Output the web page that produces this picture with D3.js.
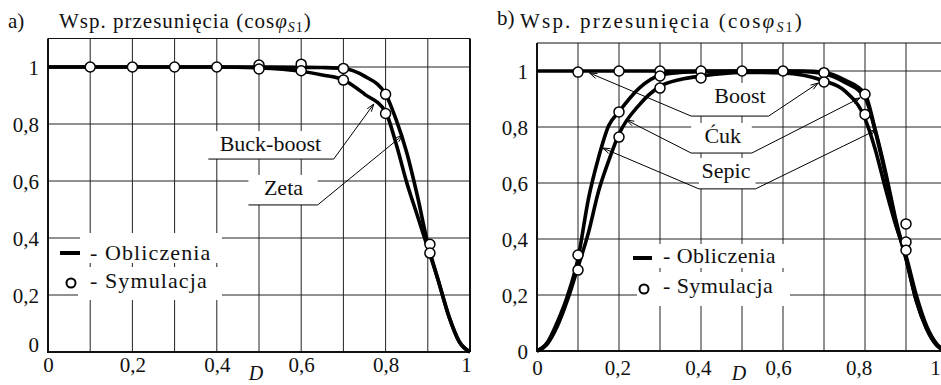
<!DOCTYPE html>
<html>
<head>
<meta charset="utf-8">
<script src="https://cdn.jsdelivr.net/npm/d3@7"></script>
<style>
  body { margin: 0; background: #fff; }
  svg { display: block; font-family: "Liberation Serif", "Times New Roman", serif; }
  text { font-family: "Liberation Serif", "Times New Roman", serif; }
</style>
</head>
<body>
<svg id="chart" width="941" height="385"></svg>
<script>
// ---- values ----
const xTicks = [0, 0.2, 0.4, 0.6, 0.8, 1]
const yTicks = [0, 0.2, 0.4, 0.6, 0.8, 1]
const xGrid = [0.1, 0.2, 0.3, 0.4, 0.5, 0.6, 0.7, 0.8, 0.9]
const yGrid = [0.2, 0.4, 0.6, 0.8, 1]

// panel a) computed curves
const dA = [0, 0.1, 0.2, 0.3, 0.4, 0.5, 0.6, 0.65, 0.7, 0.75, 0.8, 0.825, 0.85, 0.875, 0.9, 0.925, 0.95, 0.975, 1]
const buckBoostA = [1, 1, 1, 1, 1, 0.997, 0.985, 0.972, 0.955, 0.905, 0.842, 0.73, 0.595, 0.48, 0.365, 0.25, 0.125, 0.035, 0]
const zetaA = [1, 1, 1, 1, 1, 1, 0.999, 0.998, 0.995, 0.968, 0.905, 0.815, 0.70, 0.55, 0.38, 0.25, 0.125, 0.035, 0]
// panel a) simulation points
const simDA = [0.1, 0.2, 0.3, 0.4, 0.5, 0.5, 0.6, 0.6, 0.7, 0.7, 0.8, 0.8, 0.905, 0.905]
const simVA = [1, 1, 1, 1, 1.007, 0.993, 1.01, 0.987, 0.995, 0.954, 0.904, 0.837, 0.378, 0.347]

// panel b) computed curves
const dB = [0, 0.025, 0.05, 0.075, 0.1, 0.125, 0.15, 0.175, 0.2, 0.25, 0.3, 0.35, 0.4, 0.5, 0.6, 0.65, 0.7, 0.75, 0.8, 0.825, 0.85, 0.875, 0.9, 0.925, 0.95, 0.975, 1]
const boostB = [1, 1, 1, 1, 1, 1, 1, 1, 1, 1, 1, 1, 1, 1, 1, 1, 0.995, 0.968, 0.918, 0.79, 0.64, 0.47, 0.33, 0.18, 0.08, 0.02, 0]
const sepicB = [0, 0.03, 0.105, 0.2, 0.33, 0.54, 0.69, 0.805, 0.855, 0.94, 0.985, 0.995, 0.998, 1, 1, 0.998, 0.99, 0.96, 0.905, 0.785, 0.63, 0.46, 0.33, 0.18, 0.08, 0.02, 0]
const cukB = [0, 0.025, 0.09, 0.185, 0.3, 0.42, 0.57, 0.68, 0.775, 0.88, 0.945, 0.97, 0.982, 0.995, 0.993, 0.985, 0.965, 0.93, 0.83, 0.72, 0.58, 0.45, 0.34, 0.2, 0.09, 0.025, 0]
// panel b) simulation points
const simDB = [0.1, 0.1, 0.1, 0.2, 0.2, 0.2, 0.3, 0.3, 0.3, 0.4, 0.4, 0.5, 0.6, 0.7, 0.7, 0.8, 0.8, 0.9, 0.9, 0.9]
const simVB = [0.996, 0.343, 0.289, 1, 0.854, 0.764, 1.0, 0.982, 0.939, 1.0, 0.975, 1.0, 1.0, 0.994, 0.961, 0.917, 0.845, 0.454, 0.389, 0.36]

const fmt = d3.formatLocale({ decimal: ",", thousands: " ", grouping: [3], currency: ["", ""] }).format(".1~f")
const FONT = "Liberation Serif, Times New Roman, serif"

const panels = [
  {
    tag: "a)", tagX: 8, tagY: 28, titleX: 59, titleY: 28, titleSpacing: 1,
    left: 48, right: 470, bottom: 352, top: 38.5,
    d: dA, series: [buckBoostA, zetaA],
    simD: simDA, simV: simVA,
    xPad: 5, xShift: d => (d === 1 ? -4 : 0), zeroLift: -8, dX: 256, dY: 380,
    legend: { line: [60, 80, 253], textX: 90, base1: 260, base2: 288, circle: [71, 283], spacing: 1.1,
              boxes: [[80, 233, 222, 263], [78, 267, 222, 300]] },
    notes: [
      { text: "Buck-boost", cx: 0.527, base: 0.705, x0: 0.38, x1: 0.677, yLine: 0.677, tips: [[0.772, 0.87]] },
      { text: "Zeta", cx: 0.558, base: 0.551, x0: 0.475, x1: 0.639, yLine: 0.516, tips: [[0.841, 0.761]] }
    ]
  },
  {
    tag: "b)", tagX: 497, tagY: 25, titleX: 520, titleY: 28, titleSpacing: 2.2,
    left: 537, right: 947, bottom: 351, top: 43,
    d: dB, series: [boostB, sepicB, cukB],
    simD: simDB, simV: simVB,
    xPad: 9, xShift: d => (d === 1 ? -12 : -8 * d), zeroLift: 0, dX: 739, dY: 380,
    legend: { line: [633, 652, 258], textX: 663, base1: 263, base2: 293, circle: [644, 289], spacing: 0.4,
              boxes: [[656, 244, 790, 268], [637, 272, 790, 306]] },
    notes: [
      { text: "Boost", cx: 0.495, base: 0.886, x0: 0.376, x1: 0.565, yLine: 0.839, tips: [[0.128, 0.993], [0.686, 0.957]] },
      { text: "Ćuk", cx: 0.453, base: 0.743, x0: 0.376, x1: 0.524, yLine: 0.707, tips: [[0.218, 0.825], [0.788, 0.904]] },
      { text: "Sepic", cx: 0.461, base: 0.618, x0: 0.395, x1: 0.533, yLine: 0.579, tips: [[0.16, 0.725], [0.827, 0.789]] }
    ]
  }
]

const svg = d3.select("#chart")
svg.append("rect").attr("width", 941).attr("height", 385).attr("fill", "#fff")

panels.forEach(p => {
  const x = d3.scaleLinear().domain([0, 1]).range([p.left, p.right])
  const y = d3.scaleLinear().domain([0, 1.1]).range([p.bottom, p.top])
  const g = svg.append("g")

  // grid
  g.append("g").selectAll("line").data(xGrid).join("line")
    .attr("x1", d => x(d)).attr("x2", d => x(d))
    .attr("y1", y(0)).attr("y2", y(1.1))
    .attr("stroke", "#222").attr("stroke-width", 1)
  g.append("g").selectAll("line").data(yGrid).join("line")
    .attr("x1", x(0)).attr("x2", x(1))
    .attr("y1", d => y(d)).attr("y2", d => y(d))
    .attr("stroke", "#222").attr("stroke-width", 1)

  // frame
  g.append("line").attr("x1", x(0)).attr("x2", x(1)).attr("y1", y(1.1)).attr("y2", y(1.1))
    .attr("stroke", "#111").attr("stroke-width", 1.2)
  g.append("line").attr("x1", x(1)).attr("x2", x(1)).attr("y1", y(1.1)).attr("y2", y(0))
    .attr("stroke", "#111").attr("stroke-width", 2)
  g.append("line").attr("x1", x(0)).attr("x2", x(0)).attr("y1", y(1.1)).attr("y2", y(0))
    .attr("stroke", "#111").attr("stroke-width", 2)
  g.append("line").attr("x1", x(0) - 1).attr("x2", x(1)).attr("y1", y(0)).attr("y2", y(0))
    .attr("stroke", "#111").attr("stroke-width", 2)

  // axes (labels only)
  const ax = g.append("g").attr("transform", `translate(0,${y(0)})`)
    .call(d3.axisBottom(x).tickValues(xTicks).tickFormat(fmt).tickSize(0).tickPadding(p.xPad))
  const ay = g.append("g").attr("transform", `translate(${x(0)},0)`)
    .call(d3.axisLeft(y).tickValues(yTicks).tickFormat(fmt).tickSize(0).tickPadding(9))
  ;[ax, ay].forEach(a => {
    a.attr("font-family", FONT)
    a.select(".domain").remove()
    a.selectAll("text").attr("font-family", FONT).attr("font-size", 21).attr("fill", "#111")
  })
  ax.selectAll("text").attr("dx", d => p.xShift(d))
  ay.selectAll("text").attr("dy", d => (d === 0 ? p.zeroLift : 0) + "px").attr("dominant-baseline", "central")

  // white boxes behind legend and labels
  p.legend.boxes.forEach(b => {
    g.append("rect").attr("x", b[0]).attr("y", b[1]).attr("width", b[2] - b[0]).attr("height", b[3] - b[1]).attr("fill", "#fff")
  })
  p.notes.forEach(n => {
    g.append("rect")
      .attr("x", x(n.x0)).attr("y", y(n.base) - 20)
      .attr("width", x(n.x1) - x(n.x0)).attr("height", y(n.yLine) - y(n.base) + 20)
      .attr("fill", "#fff")
  })

  // computed curves
  const line = d3.line()
    .x((v, i) => x(p.d[i]))
    .y(v => y(v))
    .curve(d3.curveMonotoneX)
  g.append("g").selectAll("path").data(p.series).join("path")
    .attr("d", line)
    .attr("fill", "none").attr("stroke", "#000").attr("stroke-width", 3.6)
    .attr("stroke-linejoin", "round")

  // simulation points
  g.append("g").selectAll("circle").data(p.simD).join("circle")
    .attr("cx", d => x(d)).attr("cy", (d, i) => y(p.simV[i]))
    .attr("r", 5).attr("fill", "#fff").attr("stroke", "#000").attr("stroke-width", 1.5)

  // annotations
  p.notes.forEach(n => {
    g.append("text").attr("x", x(n.cx)).attr("y", y(n.base))
      .attr("text-anchor", "middle").attr("font-family", FONT).attr("font-size", 22).attr("fill", "#111").text(n.text)
    g.append("line").attr("x1", x(n.x0)).attr("x2", x(n.x1)).attr("y1", y(n.yLine)).attr("y2", y(n.yLine))
      .attr("stroke", "#000").attr("stroke-width", 1)
    n.tips.forEach(t => {
      const sx = t[0] < n.x0 ? x(n.x0) : x(n.x1)
      const sy = y(n.yLine)
      const tx = x(t[0]), ty = y(t[1])
      const ang = Math.atan2(sy - ty, sx - tx)
      const L = 8, s = 0.32
      g.append("line").attr("x1", sx).attr("y1", sy).attr("x2", tx).attr("y2", ty)
        .attr("stroke", "#000").attr("stroke-width", 1)
      g.append("path")
        .attr("d", `M${tx + L * Math.cos(ang + s)},${ty + L * Math.sin(ang + s)}L${tx},${ty}L${tx + L * Math.cos(ang - s)},${ty + L * Math.sin(ang - s)}`)
        .attr("fill", "none").attr("stroke", "#000").attr("stroke-width", 1)
    })
  })

  // legend
  const lg = p.legend
  g.append("line").attr("x1", lg.line[0]).attr("x2", lg.line[1]).attr("y1", lg.line[2]).attr("y2", lg.line[2])
    .attr("stroke", "#000").attr("stroke-width", 4)
  g.append("circle").attr("cx", lg.circle[0]).attr("cy", lg.circle[1]).attr("r", 4.5)
    .attr("fill", "#fff").attr("stroke", "#000").attr("stroke-width", 2)
  g.append("text").attr("x", lg.textX).attr("y", lg.base1).attr("font-family", FONT).attr("font-size", 22)
    .attr("letter-spacing", lg.spacing).attr("fill", "#111").text("- Obliczenia")
  g.append("text").attr("x", lg.textX).attr("y", lg.base2).attr("font-family", FONT).attr("font-size", 22)
    .attr("letter-spacing", lg.spacing).attr("fill", "#111").text("- Symulacja")

  // panel tag and title
  g.append("text").attr("x", p.tagX).attr("y", p.tagY).attr("font-family", FONT).attr("font-size", 21).attr("fill", "#111").text(p.tag)
  const t = g.append("text").attr("x", p.titleX).attr("y", p.titleY).attr("font-family", FONT)
    .attr("font-size", 21).attr("letter-spacing", p.titleSpacing).attr("fill", "#111")
  t.append("tspan").text("Wsp. przesunięcia (cos")
  t.append("tspan").attr("font-style", "italic").text("φ")
  t.append("tspan").attr("font-style", "italic").attr("font-size", 14).attr("dy", 4).text("S")
  t.append("tspan").attr("font-size", 14).text("1")
  t.append("tspan").attr("dy", -4).text(")")

  // x axis name
  g.append("text").attr("x", p.dX).attr("y", p.dY).attr("text-anchor", "middle").attr("font-family", FONT)
    .attr("font-size", 20).attr("font-style", "italic").attr("fill", "#111").text("D")
})
</script>
</body>
</html>
